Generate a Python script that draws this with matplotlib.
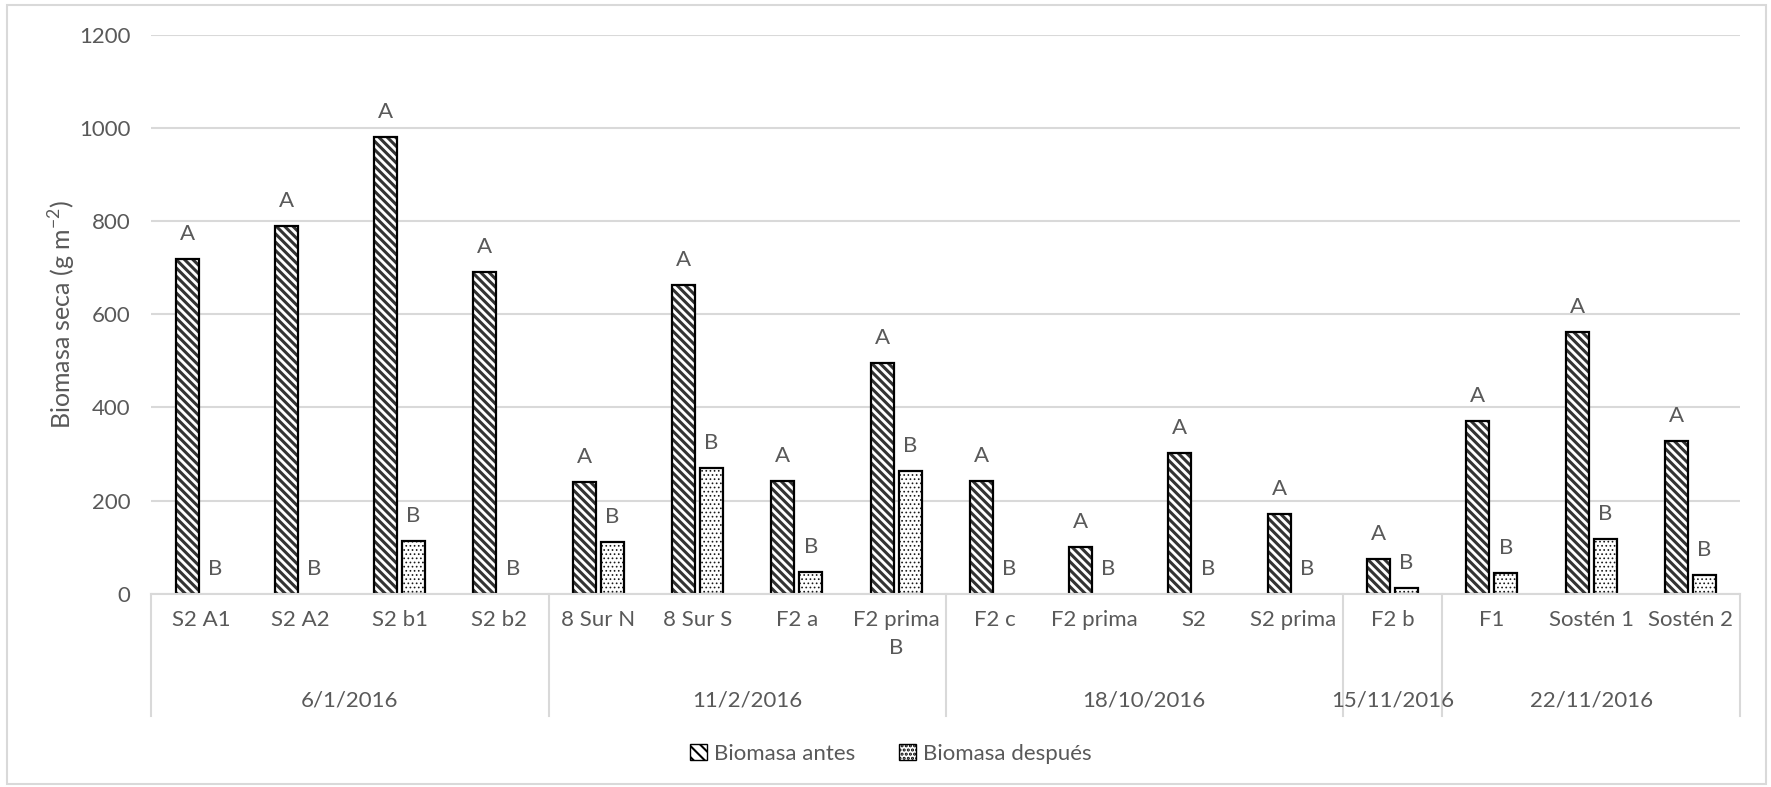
import matplotlib.pyplot as plt
from matplotlib.patches import Patch, Rectangle
import numpy as np

plt.rcParams['font.family'] = ['Lato', 'DejaVu Sans']
plt.rcParams['mathtext.fontset'] = 'custom'
plt.rcParams['mathtext.rm'] = 'Lato'

sitios = ["S2 A1", "S2 A2", "S2 b1", "S2 b2",
          "8 Sur N", "8 Sur S", "F2 a", "F2 prima\nB",
          "F2 c", "F2 prima", "S2", "S2 prima",
          "F2 b",
          "F1", "Sostén 1", "Sostén 2"]
fechas = ["6/1/2016", "11/2/2016", "18/10/2016", "15/11/2016", "22/11/2016"]
n_por_fecha = [4, 4, 4, 1, 3]

biomasa_antes = [719, 790, 981, 692, 239, 663, 242, 496, 242, 100, 303, 171, 75, 371, 563, 327]
biomasa_despues = [0, 0, 113, 0, 110, 269, 47, 264, 0, 0, 0, 0, 13, 44, 117, 40]
letras_antes = ["A"] * 16
letras_despues = ["B"] * 16

gris = '#595959'
linea = '#D9D9D9'
fs = 16


def hatch_lw(artists, lw):
    for a in artists:
        if hasattr(a, 'set_hatch_linewidth'):
            a.set_hatch_linewidth(lw)


fig = plt.figure(figsize=(17.71, 7.87), dpi=100)
ax = fig.add_axes([0.0855, 0.2456, 0.897, 0.7099])

x = np.arange(len(sitios))
w = 0.232
off = 0.141

# hatched fill first, then a black outline on top
with plt.rc_context({'hatch.linewidth': 2.2}):
    b1 = ax.bar(x - off, biomasa_antes, w, facecolor='white', edgecolor='#333333',
                hatch='\\\\\\\\', linewidth=0, zorder=2)
hatch_lw(b1, 2.2)
ax.bar(x - off, biomasa_antes, w, fill=False, edgecolor='black', linewidth=1.6, zorder=3)
with plt.rc_context({'hatch.linewidth': 0.7}):
    b2 = ax.bar(x + off, biomasa_despues, w, facecolor='white', edgecolor='#1a1a1a',
                hatch='....', linewidth=0, zorder=2)
hatch_lw(b2, 0.7)
despues_visibles = [v if v > 0 else np.nan for v in biomasa_despues]
ax.bar(x + off, despues_visibles, w, fill=False, edgecolor='black', linewidth=1.6, zorder=3)

for xi, v, t in zip(x, biomasa_antes, letras_antes):
    ax.annotate(t, (xi - off, v), xytext=(0, 18), textcoords='offset points',
                ha='center', va='center', fontsize=fs, color=gris)
for xi, v, t in zip(x, biomasa_despues, letras_despues):
    ax.annotate(t, (xi + off, v), xytext=(0, 18), textcoords='offset points',
                ha='center', va='center', fontsize=fs, color=gris)

ax.set_xlim(-0.5, len(sitios) - 0.5)
ax.set_ylim(0, 1200)
ax.set_yticks(range(0, 1201, 200))
ax.yaxis.grid(True, color=linea, linewidth=1.5)
ax.set_axisbelow(True)
for s in ['top', 'right', 'left']:
    ax.spines[s].set_visible(False)
ax.spines['bottom'].set_color(linea)
ax.spines['bottom'].set_linewidth(1.5)
ax.spines['bottom'].set_zorder(4)

ax.set_xticks(x, sitios)
ax.tick_params(axis='both', length=0, labelsize=fs, labelcolor=gris)
ax.tick_params(axis='x', pad=12)
ax.tick_params(axis='y', pad=15)
for lab in ax.get_xticklabels():
    lab.set_linespacing(1.45)

# date groups under the site labels
trans = ax.get_xaxis_transform()
bordes = np.concatenate([[0], np.cumsum(n_por_fecha)]) - 0.5
for b in bordes:
    ax.plot([b, b], [0, -0.219], transform=trans, color=linea, linewidth=1.5, clip_on=False)
for i, f in enumerate(fechas):
    centro = (bordes[i] + bordes[i + 1]) / 2
    ax.text(centro, -0.192, f, transform=trans, ha='center', va='center',
            fontsize=fs, color=gris)

ax.set_ylabel(r'Biomasa seca (g m$^{\mathrm{-2}}$)', fontsize=18, color=gris)
ax.yaxis.set_label_coords(-0.046, 0.5)

with plt.rc_context({'hatch.linewidth': 1.5}):
    handles = [Patch(facecolor='white', edgecolor='black', hatch='\\\\\\', label='Biomasa antes'),
               Patch(facecolor='white', edgecolor='black', hatch='....', label='Biomasa después')]
    leg = fig.legend(handles=handles, loc='center', bbox_to_anchor=(0.503, 0.042), ncol=2,
                     frameon=False, fontsize=fs, handlelength=0.75, handleheight=0.75,
                     handletextpad=0.3, columnspacing=2.0)
for t in leg.get_texts():
    t.set_color(gris)

fig.patches.append(Rectangle((7 / 1771, 3 / 787), 1759 / 1771, 779 / 787,
                             transform=fig.transFigure, fill=False,
                             edgecolor=linea, linewidth=1.5))

fig.savefig('out.png', dpi=100)
